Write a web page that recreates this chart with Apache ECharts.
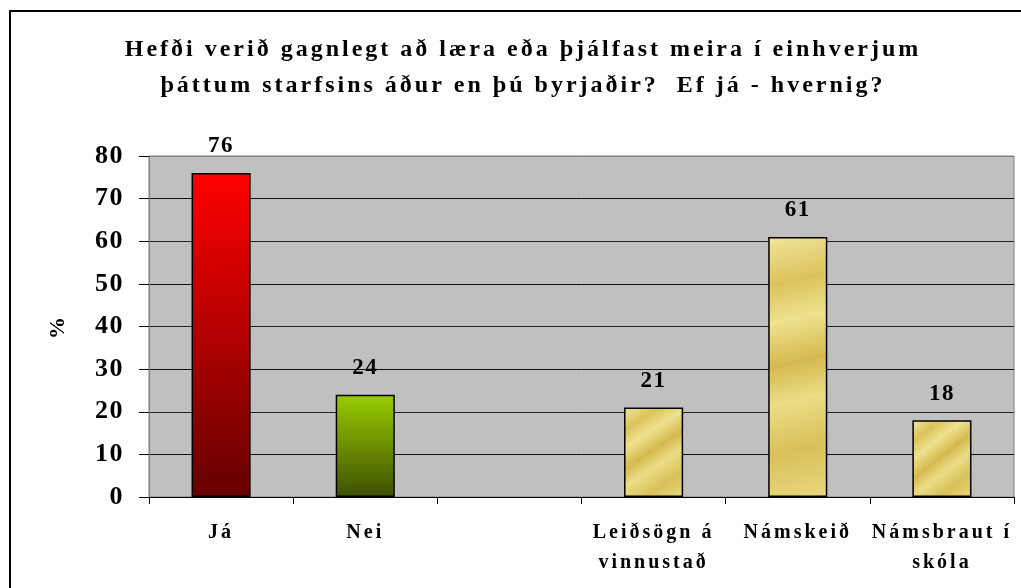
<!DOCTYPE html>
<html>
<head>
<meta charset="utf-8">
<script src="https://cdn.jsdelivr.net/npm/echarts@6/dist/echarts.min.js"></script>
<style>
  html, body { margin: 0; padding: 0; background: #ffffff; }
  #chart { width: 1021px; height: 588px; }
</style>
</head>
<body>
<div id="chart"></div>
<script>
const titleText = 'Hefði verið gagnlegt að læra eða þjálfast meira í einhverjum\nþáttum starfsins áður en þú byrjaðir?  Ef já - hvernig?';
const categories = ['Já', 'Nei', '', 'Leiðsögn á\nvinnustað', 'Námskeið', 'Námsbraut í\nskóla'];
const values = [76, 24, null, 21, 61, 18];
const yTicks = { min: 0, max: 80, interval: 10 };
const yName = '%';

const FONT = 'Liberation Serif';

// widen glyph spacing like the reference rendering (numbers stay tighter)
(function () {
  const proto = CanvasRenderingContext2D.prototype;
  const orig = proto.fillText;
  proto.fillText = function () {
    if ('letterSpacing' in this) {
      const f = this.font || '';
      this.letterSpacing = (f.indexOf('26px') >= 0 || f.indexOf('23px') >= 0) ? '1.5px' : '3px';
    }
    return orig.apply(this, arguments);
  };
})();

function grad(top, bottom) {
  return new echarts.graphic.LinearGradient(0, 0, 0, 1, [
    { offset: 0, color: top }, { offset: 1, color: bottom }
  ]);
}
function gold() {
  return new echarts.graphic.LinearGradient(0, 0, 1, 1, [
    { offset: 0, color: '#f0e59c' },
    { offset: 0.18, color: '#dcc35c' },
    { offset: 0.32, color: '#eee28e' },
    { offset: 0.48, color: '#d5b94f' },
    { offset: 0.62, color: '#ebdd86' },
    { offset: 0.8, color: '#d9c05a' },
    { offset: 1, color: '#e8d87f' }
  ]);
}
const barStyles = [
  () => grad('#ff0000', '#640000'),
  () => grad('#99cc00', '#3e5000'),
  () => '#c0c0c0',
  gold, gold, gold
];

const chart = echarts.init(document.getElementById('chart'), null, { renderer: 'canvas' });

const seriesData = values.map((v, i) => ({
  value: v,
  itemStyle: { color: barStyles[i](), borderColor: '#000', borderWidth: 1.5 }
}));

chart.setOption({
  animation: false,
  backgroundColor: '#ffffff',
  title: {
    text: titleText,
    left: 523,
    top: 32,
    padding: 0,
    textAlign: 'center',
    textStyle: { fontFamily: FONT, fontWeight: 'bold', fontSize: 24, lineHeight: 36, color: '#000' }
  },
  graphic: [{
    type: 'rect',
    shape: { x: 10, y: 11, width: 1200, height: 800 },
    style: { fill: 'none', stroke: '#000', lineWidth: 2 },
    silent: true, z: 100
  }],
  grid: {
    left: 149, right: 7, top: 156, bottom: 91,
    show: true, backgroundColor: '#c0c0c0', borderColor: '#808080', borderWidth: 1
  },
  xAxis: {
    type: 'category',
    data: categories,
    boundaryGap: true,
    axisLine: { show: true, lineStyle: { color: '#000', width: 1 } },
    axisTick: { show: true, length: 7, lineStyle: { color: '#000' } },
    axisLabel: {
      interval: 0, margin: 21, color: '#000',
      fontFamily: FONT, fontWeight: 'bold', fontSize: 20, lineHeight: 30
    }
  },
  yAxis: {
    type: 'value',
    min: yTicks.min, max: yTicks.max, interval: yTicks.interval,
    name: yName,
    nameLocation: 'middle',
    nameRotate: 90,
    nameGap: 80,
    nameTextStyle: { fontFamily: FONT, fontWeight: 'bold', fontSize: 22, color: '#000' },
    axisLine: { show: true, lineStyle: { color: '#808080', width: 1 } },
    axisTick: { show: true, inside: false, length: 10, lineStyle: { color: '#000' } },
    axisLabel: {
      margin: 25, color: '#000',
      fontFamily: FONT, fontWeight: 'bold', fontSize: 26
    },
    splitLine: {
      show: true,
      lineStyle: { color: ['#000', '#111', '#222', '#111', '#222', '#111', '#222', '#111', '#808080'], width: 1 }
    }
  },
  series: [{
    type: 'bar',
    data: seriesData,
    barWidth: '41%',
    label: {
      show: true, position: 'top', distance: 15,
      color: '#000', fontFamily: FONT, fontWeight: 'bold', fontSize: 23
    }
  }]
});
</script>
</body>
</html>
